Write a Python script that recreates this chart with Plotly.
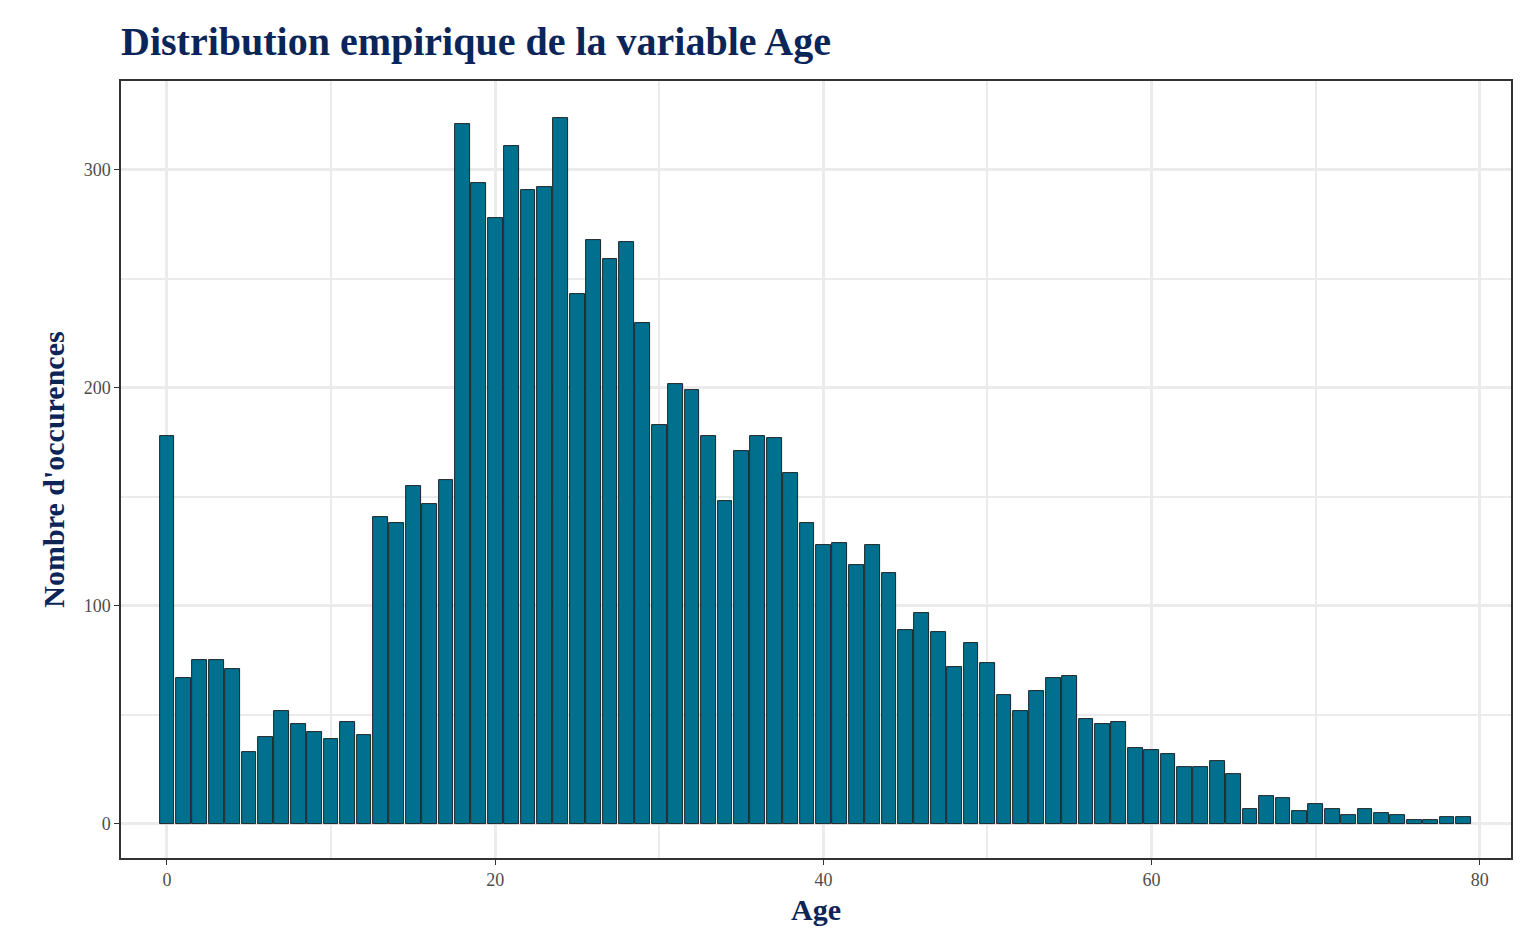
import plotly.graph_objects as go

ages = list(range(80))
counts = [178, 67, 75, 75, 71, 33, 40, 52, 46, 42, 39, 47, 41, 141, 138, 155, 147, 158,
          321, 294, 278, 311, 291, 292, 324, 243, 268, 259, 267, 230, 183, 202, 199, 178,
          148, 171, 178, 177, 161, 138, 128, 129, 119, 128, 115, 89, 97, 88, 72, 83, 74,
          59, 52, 61, 67, 68, 48, 46, 47, 35, 34, 32, 26, 26, 29, 23, 7, 13, 12, 6, 9,
          7, 4, 7, 5, 4, 2, 2, 3, 3]

navy = "#0b2559"
font = "Liberation Serif"

fig = go.Figure(go.Bar(
    x=ages, y=counts, width=0.9,
    marker=dict(color="#00708f", line=dict(color="black", width=0.8)),
))

fig.update_layout(
    width=1536, height=949,
    paper_bgcolor="white", plot_bgcolor="white",
    margin=dict(l=113, r=33, t=73, b=99),
    font=dict(family=font, color="#4d4d4d", size=18),
    title=dict(text="<b>Distribution empirique de la variable Age</b>",
               x=0, xref="paper", y=0.965, yanchor="middle",
               font=dict(size=40, color=navy, family=font)),
    showlegend=False,
    bargap=0,
)
fig.update_xaxes(
    range=[-2.8, 81.9], tickvals=[0, 20, 40, 60, 80],
    tickfont=dict(size=18, family=font, color="#4d4d4d"),
    ticks="outside", ticklen=5, tickcolor="#333",
    showgrid=True, gridcolor="#ebebeb", gridwidth=3,
    minor=dict(dtick=10, tick0=0, showgrid=True, gridcolor="#ebebeb", gridwidth=1.5),
    showline=True, linecolor="#333", linewidth=1.5, mirror=True, zeroline=False,
    title=dict(text="<b>Age</b>", font=dict(size=30, color=navy, family=font), standoff=10),
)
fig.update_yaxes(
    range=[-15.6, 340.8], tickvals=[0, 100, 200, 300],
    tickfont=dict(size=18, family=font, color="#4d4d4d"),
    ticks="outside", ticklen=5, tickcolor="#333",
    showgrid=True, gridcolor="#ebebeb", gridwidth=3,
    minor=dict(dtick=50, tick0=0, showgrid=True, gridcolor="#ebebeb", gridwidth=1.5),
    showline=True, linecolor="#333", linewidth=1.5, mirror=True, zeroline=False,
    title=dict(text="<b>Nombre d'occurences</b>", font=dict(size=30, color=navy, family=font), standoff=10),
)

fig.write_html("out.html")
